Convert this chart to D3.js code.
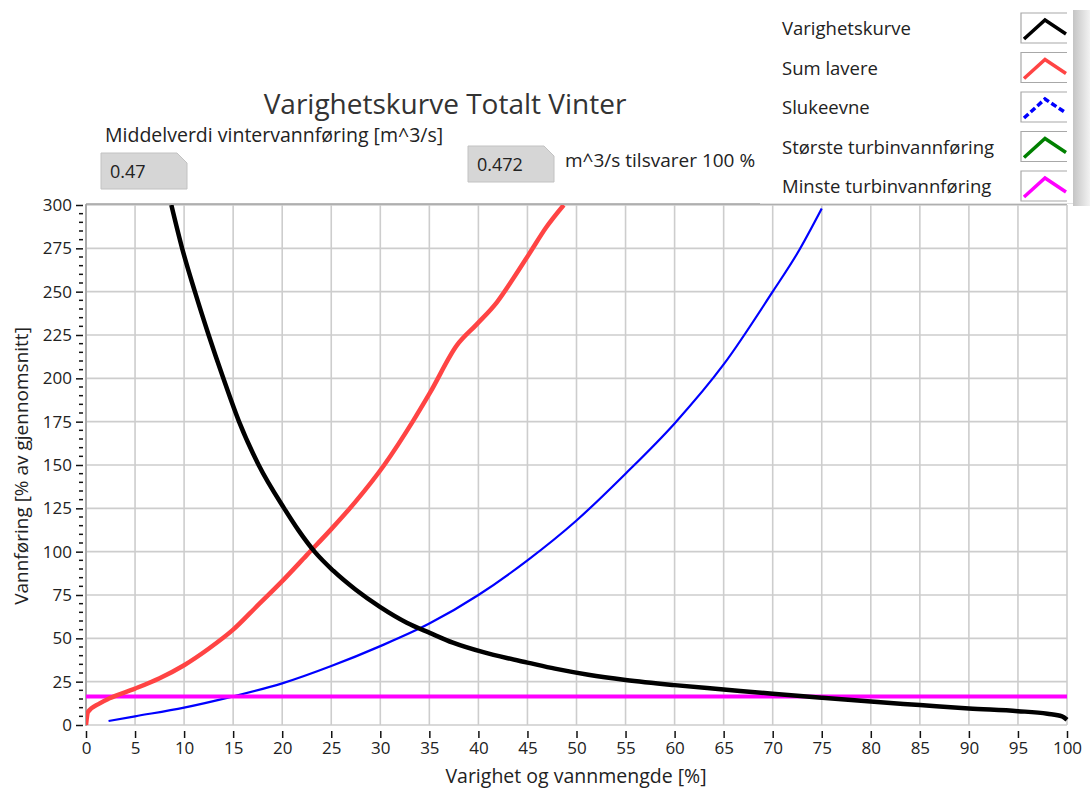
<!DOCTYPE html>
<html>
<head>
<meta charset="utf-8">
<script src="https://cdn.jsdelivr.net/npm/d3@7"></script>
<style>
  html, body { margin: 0; padding: 0; background: #ffffff; }
  svg { display: block; font-family: "Open Sans", "Noto Sans", sans-serif; }
</style>
</head>
<body>
<svg id="chart" width="1090" height="795"></svg>
<script>
// ---------- data ----------
const chartTitle = "Varighetskurve Totalt Vinter";
const xTickValues = [0,5,10,15,20,25,30,35,40,45,50,55,60,65,70,75,80,85,90,95,100];
const yTickValues = [0,25,50,75,100,125,150,175,200,225,250,275,300];
const seriesNames = ["Varighetskurve","Sum lavere","Slukeevne","Største turbinvannføring","Minste turbinvannføring"];
const seriesColors = ["#000000","#ff4444","#0000ff","#008000","#ff00ff"];

// Varighetskurve  [varighet %, vannføring %]
const varighetX = [8.7,9.8,11.1,12.5,14.0,15.6,17.6,20.2,21.7,23.3,25.2,27.5,30.0,32.7,35.1,37.4,40.5,43.0,45.0,47.8,51.2,55.0,60.0,65.0,70.0,75.0,80.0,85.0,90.0,95.0,98.0,99.5,100];
const varighetY = [300,275,250,225,200,175,150,125,112,100,89,78,68,59,53,47.5,42,38.5,36,32.5,29,26,23,20.5,18,15.7,13.5,11.5,9.5,8,6.5,5,3];

// Sum lavere
const sumX = [0,0.2,1.4,2.4,5.0,7.5,10.0,12.5,15.0,17.5,20.0,22.5,25.0,27.5,30.4,33.3,35.1,37.8,39.8,41.9,43.6,45.2,46.9,48.7];
const sumY = [0,7.5,12.5,15.4,21,27,34.5,44,55,69,83,98,113,129,150,175,192,219,231,244,258,272,287,300];

// Slukeevne
const slukX = [2.3,5,10,15,20,25,30,35,40,45,50,55,60,65,70,72.5,75];
const slukY = [2.3,5,10,16.5,24,34,45.5,58.5,75,95,118,145,174,208,250,272,298];

// Minste turbinvannføring (constant)
const minsteX = [0,100];
const minsteY = [16.5,16.5];

// text fields
const middelLabel = "Middelverdi vintervannføring [m^3/s]";
const middelValue = "0.47";
const hundredValue = "0.472";
const hundredLabel = "m^3/s tilsvarer 100 %";
const xTitle = "Varighet og vannmengde [%]";
const yTitle = "Vannføring [% av gjennomsnitt]";

// ---------- layout ----------
const svg = d3.select("#chart");
const L = 86, R = 1067, T = 205, B = 725;
const x = d3.scaleLinear().domain([0,100]).range([L,R]);
const y = d3.scaleLinear().domain([0,300]).range([B,T]);
const textColor = "#222";

// gridlines
const grid = svg.append("g");
grid.selectAll(".vg").data(xTickValues).enter().append("line")
  .attr("x1", d=>x(d)).attr("x2", d=>x(d)).attr("y1", T).attr("y2", B)
  .attr("stroke", "#cdcdcd").attr("stroke-width", 1.6);
grid.selectAll(".hg").data(yTickValues).enter().append("line")
  .attr("x1", L).attr("x2", R).attr("y1", d=>y(d)).attr("y2", d=>y(d))
  .attr("stroke", "#cdcdcd").attr("stroke-width", 1.6);

// plot frame (top + left)
svg.append("line").attr("x1", L).attr("x2", R).attr("y1", T-1).attr("y2", T-1).attr("stroke", "#a0a0a0").attr("stroke-width", 1.5);
svg.append("line").attr("x1", L).attr("x2", L).attr("y1", T-1).attr("y2", B+1).attr("stroke", "#9a9a9a").attr("stroke-width", 1.5);

// y axis
const yAxis = d3.axisLeft(y).tickValues(yTickValues).tickSize(7).tickPadding(4);
const yg = svg.append("g").attr("transform", `translate(${L-3},0)`).call(yAxis);
yg.select(".domain").remove();
yg.selectAll(".tick line").attr("stroke", "#111").attr("stroke-width", 1.5);
yg.selectAll(".tick text").attr("font-size", 17).attr("fill", textColor).attr("font-family", "Open Sans");
// minor y ticks
const yMinor = d3.range(0, 301, 5).filter(v => v % 25 !== 0);
svg.append("g").selectAll("line").data(yMinor).enter().append("line")
  .attr("x1", L-7).attr("x2", L-3).attr("y1", d=>y(d)).attr("y2", d=>y(d))
  .attr("stroke", "#111").attr("stroke-width", 1.5);

// x axis
const xAxis = d3.axisBottom(x).tickValues(xTickValues).tickSize(7).tickPadding(4);
const xg = svg.append("g").attr("transform", `translate(0,${B+6})`).call(xAxis);
xg.select(".domain").remove();
xg.selectAll(".tick line").attr("stroke", "#111").attr("stroke-width", 1.5);
xg.selectAll(".tick text").attr("font-size", 17).attr("fill", textColor).attr("font-family", "Open Sans");

// axis titles
svg.append("text").attr("x", 576).attr("y", 783).attr("text-anchor", "middle")
  .attr("font-size", 19.5).attr("fill", textColor).text(xTitle);
svg.append("text").attr("transform", "translate(28,466) rotate(-90)").attr("text-anchor", "middle")
  .attr("font-size", 19).attr("fill", textColor).text(yTitle);

// curves
svg.append("clipPath").attr("id", "plotclip").append("rect")
  .attr("x", L).attr("y", T).attr("width", R-L+3).attr("height", B-T+3);
const lineGen = d3.line().x(d=>x(d[0])).y(d=>y(d[1])).curve(d3.curveMonotoneX);
const plot = svg.append("g").attr("clip-path", "url(#plotclip)");
function addLine(xs, ys, color, w) {
  const pts = xs.map((v,i)=>[v, ys[i]]);
  plot.append("path").datum(pts).attr("d", lineGen).attr("fill","none")
    .attr("stroke", color).attr("stroke-width", w).attr("stroke-linejoin","round");
}
addLine(slukX, slukY, seriesColors[2], 2.2);
addLine(minsteX, minsteY, seriesColors[4], 4);
addLine(sumX, sumY, seriesColors[1], 4.5);
addLine(varighetX, varighetY, seriesColors[0], 4.5);

// title and fields
svg.append("text").attr("x", 445).attr("y", 114).attr("text-anchor", "middle")
  .attr("font-size", 28).attr("fill", "#333").text(chartTitle);
svg.append("text").attr("x", 105).attr("y", 142).attr("font-size", 19.5).attr("fill", textColor).text(middelLabel);

function field(x0, y0, w, h, val) {
  const c = 10;
  svg.append("path")
    .attr("d", `M${x0},${y0} L${x0+w-c},${y0} L${x0+w},${y0+c} L${x0+w},${y0+h} L${x0},${y0+h} Z`)
    .attr("fill", "#d6d6d6").attr("stroke", "#c2c2c2").attr("stroke-width", 1);
  svg.append("text").attr("x", x0+9).attr("y", y0+h/2+7).attr("font-size", 18).attr("fill", textColor).text(val);
}
field(101, 153, 86, 36, middelValue);
field(468, 146, 86, 36, hundredValue);
svg.append("text").attr("x", 565).attr("y", 167).attr("font-size", 19).attr("fill", textColor).text(hundredLabel);

// legend
const lg = svg.append("g");
const defs = svg.append("defs");
const grad = defs.append("linearGradient").attr("id", "shadow").attr("x1", "0").attr("x2", "1");
grad.append("stop").attr("offset", "0").attr("stop-color", "#c4c4c4");
grad.append("stop").attr("offset", "1").attr("stop-color", "#f2f2f2");
lg.append("rect").attr("x", 1073).attr("y", 10).attr("width", 17).attr("height", 196).attr("fill", "url(#shadow)");
lg.append("rect").attr("x", 757).attr("y", 0).attr("width", 316).attr("height", 203).attr("fill", "#ffffff");
lg.append("line").attr("x1", 760).attr("x2", 1073).attr("y1", 203.5).attr("y2", 203.5).attr("stroke", "#e2e2e2");
seriesNames.forEach((name, i) => {
  const cy = 28 + i * 39.5;
  lg.append("text").attr("x", 782).attr("y", cy + 7).attr("font-size", 18.5).attr("fill", textColor).text(name);
  const bx = 1021, by = cy - 15;
  lg.append("path").attr("d", `M${bx+46},${by} L${bx},${by} L${bx},${by+30} L${bx+46},${by+30}`)
    .attr("fill", "none").attr("stroke", "#a8a8a8").attr("stroke-width", 1.2);
  lg.append("path").attr("d", `M${bx+3},${by+26} L${bx+24},${by+7} L${bx+45},${by+21}`)
    .attr("fill", "none").attr("stroke", seriesColors[i]).attr("stroke-width", 3.5)
    .attr("stroke-dasharray", i === 2 ? "6,3" : null);
});
</script>
</body>
</html>
